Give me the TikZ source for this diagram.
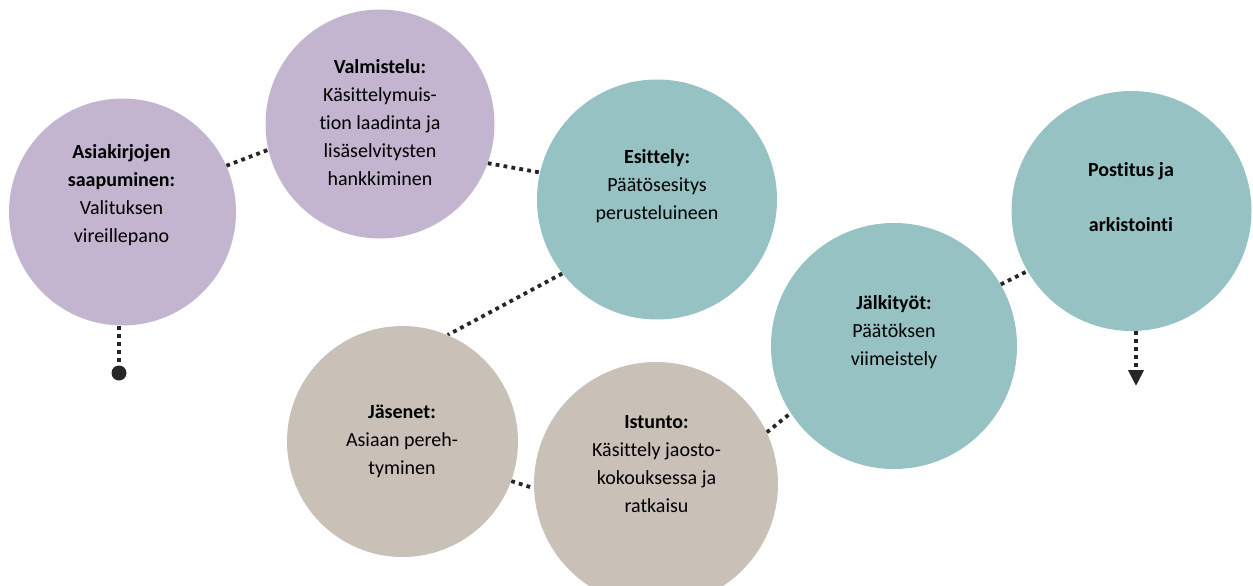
\documentclass[tikz,border=0pt]{standalone}
\usepackage{fontspec}
\setmainfont{Carlito}[Ligatures={NoCommon,NoRequired,NoContextual}]
\usetikzlibrary{arrows.meta,backgrounds}
\definecolor{lila}{HTML}{C3B4CF}
\definecolor{teal}{HTML}{97C2C3}
\definecolor{beige}{HTML}{C9C0B7}
\definecolor{ink}{HTML}{262626}
\tikzset{
  stage/.style={circle, draw=none, inner sep=0pt, minimum size=#1},
  txt/.style={align=center, text=black, font=\fontsize{20}{28}\selectfont, inner sep=0pt},
  link/.style={draw=ink, line width=3.8pt, dash pattern=on 3.8pt off 4.2pt},
}
\begin{document}
\begin{tikzpicture}[x=1pt,y=-1pt]
\useasboundingbox (0,0) rectangle (1253,586);
% circles
\node[stage=227pt, fill=lila] (c1) at (122.5,212) {};
\node[stage=229pt, fill=lila] (c2) at (380,124) {};
\node[stage=240pt, fill=teal] (c3) at (657,199.5) {};
\node[stage=231pt, fill=beige] (c4) at (402.5,441.5) {};
\node[stage=244pt, fill=beige] (c5) at (656,484) {};
\node[stage=246pt, fill=teal] (c6) at (894,346) {};
\node[stage=240pt, fill=teal] (c7) at (1131.5,211) {};
% texts
\node[txt] (t1) at (121.5,195) {\textbf{Asiakirjojen}\\\textbf{saapuminen:}\\Valituksen\\vireillepano};
\node[txt] (t2) at (380,123) {\textbf{Valmistelu:}\\Käsittelymuis-\\tion laadinta ja\\lisäselvitysten\\hankkiminen};
\node[txt] (t3) at (657,186) {\textbf{Esittely:}\\Päätösesitys\\perusteluineen};
\node[txt] (t4) at (402,441) {\textbf{Jäsenet:}\\Asiaan pereh-\\tyminen};
\node[txt] (t5) at (656.5,464) {\textbf{Istunto:}\\Käsittely jaosto-\\kokouksessa ja\\ratkaisu};
\node[txt] (t6) at (894,332) {\textbf{Jälkityöt:}\\Päätöksen\\viimeistely};
\node[txt] (t7) at (1131,197) {\textbf{Postitus ja}\\[27pt]\textbf{arkistointi}};
% ends
\node[circle, fill=ink, inner sep=0pt, minimum size=15pt] (start) at (119,373) {};
\coordinate (finish) at (1136,386);
% connectors
\begin{scope}[on background layer]
\draw[link] (c1.24) -- (c2.193);
\draw[link] (c2.340) -- (c3.167);
\draw[link] (c3.218) -- (c4.67);
\draw[link] (c4.340) -- (c5.182);
\draw[link] (c5.25) -- (c6.213);
\draw[link] (c6.30) -- (c7.210);
\draw[link] (start |- c1.south) -- (start.center);
\draw[link, -{Triangle[width=15pt,length=16pt]}] (finish |- c7.south) -- (finish);
\end{scope}
\end{tikzpicture}
\end{document}
